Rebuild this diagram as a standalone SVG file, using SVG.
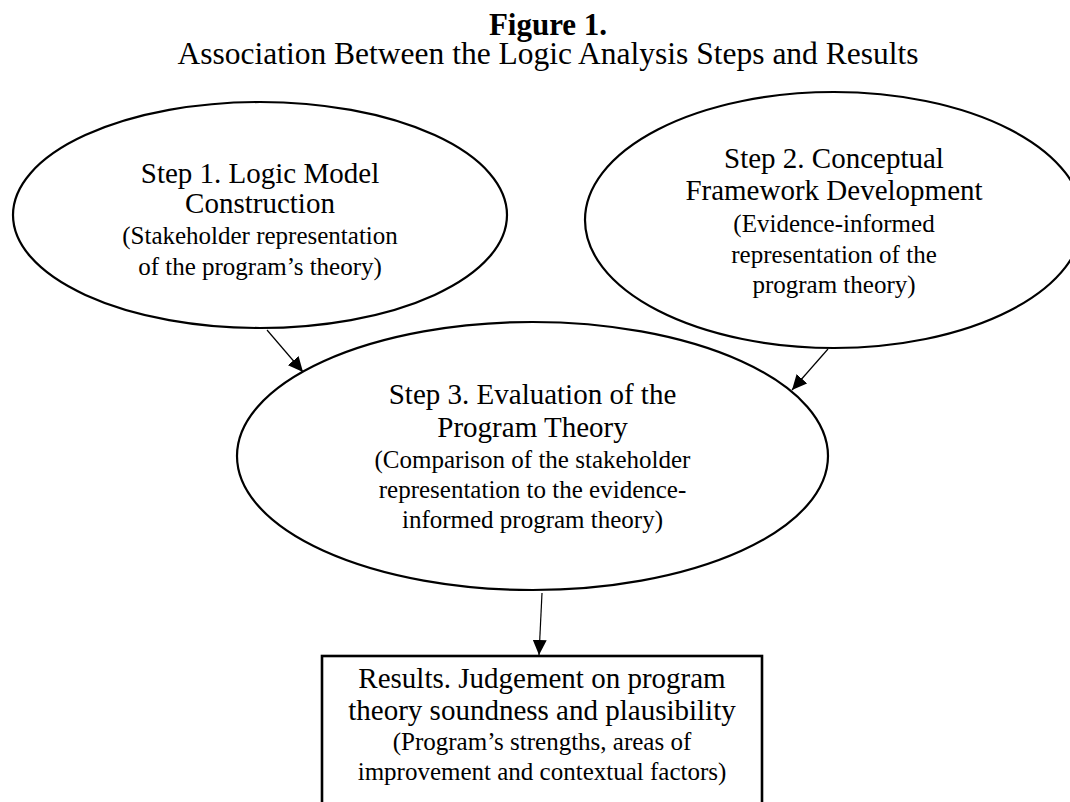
<svg xmlns="http://www.w3.org/2000/svg" width="1070" height="802" viewBox="0 0 1070 802">
  <style>
    text { font-family: "Liberation Serif", "Times New Roman", serif; fill: #000; text-anchor: middle; }
    .title { font-size: 31px; font-weight: bold; }
    .subtitle { font-size: 31.5px; }
    .main { font-size: 29px; }
    .sub { font-size: 25px; }
    .shape { fill: #fff; stroke: #000; stroke-width: 2.2; }
    .box { fill: #fff; stroke: #000; stroke-width: 2.6; }
    .edge { stroke: #000; stroke-width: 1.2; fill: none; marker-end: url(#arrow); }
  </style>
  <defs>
    <marker id="arrow" markerUnits="userSpaceOnUse" markerWidth="16" markerHeight="14" refX="15" refY="7" orient="auto">
      <path d="M0,0 L15,7 L0,14 Z" fill="#000"/>
    </marker>
  </defs>

  <g id="title">
    <text class="title" x="548" y="35">Figure 1.</text>
    <text class="subtitle" x="548" y="63.5">Association Between the Logic Analysis Steps and Results</text>
  </g>

  <!-- Step 3 is drawn before steps 1 and 2 so their outlines sit on top where they meet -->
  <g id="step3">
    <ellipse class="shape" cx="532.5" cy="456" rx="295.5" ry="134"/>
    <text class="main" x="532.5" y="404">Step 3. Evaluation of the</text>
    <text class="main" x="532.5" y="437">Program Theory</text>
    <text class="sub" x="532.5" y="468">(Comparison of the stakeholder</text>
    <text class="sub" x="532.5" y="498">representation to the evidence-</text>
    <text class="sub" x="532.5" y="528">informed program theory)</text>
  </g>

  <g id="step1">
    <ellipse class="shape" cx="260" cy="215" rx="247" ry="113"/>
    <text class="main" x="260" y="183">Step 1. Logic Model</text>
    <text class="main" x="260" y="213">Construction</text>
    <text class="sub" x="260" y="244">(Stakeholder representation</text>
    <text class="sub" x="260" y="275">of the program’s theory)</text>
  </g>

  <g id="step2">
    <ellipse class="shape" cx="834" cy="220" rx="249" ry="128"/>
    <text class="main" x="834" y="168">Step 2. Conceptual</text>
    <text class="main" x="834" y="200">Framework Development</text>
    <text class="sub" x="834" y="232">(Evidence-informed</text>
    <text class="sub" x="834" y="263">representation of the</text>
    <text class="sub" x="834" y="293">program theory)</text>
  </g>

  <g id="results">
    <rect class="box" x="322" y="656" width="440" height="160"/>
    <text class="main" x="542" y="688">Results. Judgement on program</text>
    <text class="main" x="542" y="720">theory soundness and plausibility</text>
    <text class="sub" x="542" y="750">(Program’s strengths, areas of</text>
    <text class="sub" x="542" y="780">improvement and contextual factors)</text>
  </g>

  <g id="connectors">
    <line class="edge" x1="267" y1="330" x2="303" y2="372"/>
    <line class="edge" x1="828" y1="349" x2="792" y2="390"/>
    <line class="edge" x1="542" y1="593" x2="539" y2="655"/>
  </g>
</svg>
